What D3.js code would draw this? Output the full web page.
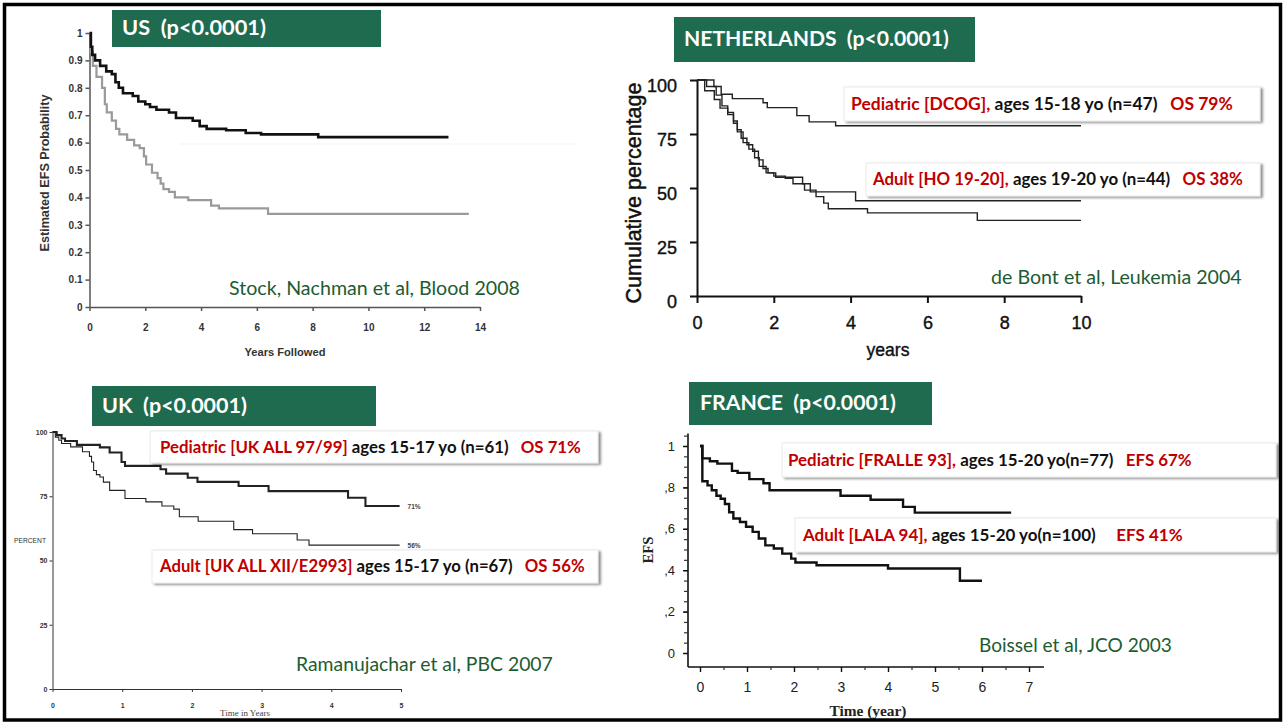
<!DOCTYPE html>
<html>
<head>
<meta charset="utf-8">
<script src="https://cdn.jsdelivr.net/npm/d3@7"></script>
<style>
  body { margin: 0; background: #fff; }
  svg { display: block; }
  text { white-space: pre; }
</style>
</head>
<body>
<div id="chart"></div>
<script>
////////////////// data ////////////////////////////////////

// US (Stock, Nachman) - years, EFS probability
const usXTicks = [0, 2, 4, 6, 8, 10, 12, 14];
const usYTicks = [0, 0.1, 0.2, 0.3, 0.4, 0.5, 0.6, 0.7, 0.8, 0.9, 1];
const usYLabels = ["0", "0.1", "0.2", "0.3", "0.4", "0.5", "0.6", "0.7", "0.8", "0.9", "1"];
const usPediatric = [[0,1],[0.05,0.95],[0.1,0.92],[0.2,0.9],[0.38,0.88],[0.6,0.86],[0.8,0.85],[0.93,0.82],
  [1.05,0.8],[1.2,0.78],[1.55,0.77],[1.75,0.75],[2.0,0.74],[2.17,0.73],[2.4,0.72],[2.85,0.71],[3.1,0.69],
  [3.7,0.68],[3.95,0.66],[4.2,0.65],[4.9,0.645],[5.6,0.635],[6.15,0.63],[8.2,0.62],[12.87,0.62]];
const usAdult = [[0,1],[0.05,0.93],[0.12,0.88],[0.25,0.84],[0.45,0.8],[0.55,0.74],[0.62,0.71],[0.8,0.68],
  [0.95,0.65],[1.07,0.63],[1.35,0.61],[1.6,0.59],[1.8,0.58],[1.95,0.55],[2.03,0.52],[2.24,0.49],[2.44,0.47],
  [2.55,0.45],[2.65,0.43],[2.85,0.42],[3.06,0.4],[3.54,0.39],[4.36,0.37],[4.64,0.36],[6.4,0.34],[13.6,0.34]];

// NETHERLANDS (de Bont) - years, cumulative percentage
const nlXTicks = [0, 2, 4, 6, 8, 10];
const nlYTicks = [0, 25, 50, 75, 100];
const nlPediatric = [[0,100],[0.44,97],[0.63,93.4],[0.92,91.4],[1.72,89.5],[1.83,87.2],[2.6,83.5],
  [2.92,80.6],[3.61,78.8],[10,78.8]];
const nlAdult = [[0,100],[0.25,97],[0.5,93],[0.65,88],[0.8,85],[0.95,81],[1.05,77],[1.15,73],[1.3,70],
  [1.45,67],[1.6,63],[1.72,59],[1.85,57],[2.05,55],[2.75,52],[2.95,48.2],[4.13,44.1],[10,44.1]];
const nlOther = [[0,100],[0.2,95],[0.45,91],[0.6,87],[0.8,84],[0.95,80],[1.05,76],[1.2,71],[1.35,68],
  [1.5,64],[1.62,60],[1.8,57],[2.0,55.5],[2.3,54.5],[2.5,52],[2.8,49],[3.1,46],[3.3,43],[3.42,40.4],
  [4.44,38.5],[7.3,35],[10,35]];
const nlLegend = [["Pediatric [DCOG],", " ages 15-18 yo (n=47)", "   OS 79%"],
                  ["Adult [HO 19-20],", " ages 19-20 yo (n=44)", "   OS 38%"]];

// UK (Ramanujachar) - years, percent
const ukXTicks = [0, 1, 2, 3, 4, 5];
const ukYTicks = [0, 25, 50, 75, 100];
const ukPediatric = [[0,100],[0.06,98.8],[0.13,97.5],[0.18,96.5],[0.35,95],[0.68,94],[0.82,92],[0.99,88.3],
  [1.04,86.8],[1.55,85.5],[1.63,83.8],[1.94,82.2],[2.08,80.6],[2.67,79],[3.1,77],[4.24,74.4],[4.49,71.2],[4.98,71.2]];
const ukAdult = [[0,100],[0.04,98],[0.09,96.8],[0.13,95.5],[0.26,94.2],[0.43,92.3],[0.53,90.5],[0.56,88.3],
  [0.59,85],[0.63,83.4],[0.68,82.5],[0.73,80.5],[0.82,77.3],[1.04,74.1],[1.34,72.8],[1.57,71.2],[1.74,70],
  [1.82,67],[2.09,65.3],[2.6,62],[2.87,60.4],[3.51,58],[3.68,56],[4.98,56]];
const ukEndLabels = ["71%", "56%"];
const ukLegend = [["Pediatric [UK ALL 97/99]", " ages 15-17 yo (n=61)", "   OS 71%"],
                  ["Adult [UK ALL XII/E2993]", " ages 15-17 yo (n=67)", "   OS 56%"]];

// FRANCE (Boissel) - years, EFS
const frXTicks = [0, 1, 2, 3, 4, 5, 6, 7];
const frYTicks = [0, 0.2, 0.4, 0.6, 0.8, 1];
const frYLabels = ["0", ",2", ",4", ",6", ",8", "1"];
const frPediatric = [[0,1],[0.05,0.94],[0.21,0.926],[0.37,0.915],[0.68,0.88],[0.8,0.87],[1.05,0.84],
  [1.35,0.82],[1.48,0.786],[2.99,0.76],[3.63,0.74],[4.32,0.706],[4.57,0.678],[6.62,0.678]];
const frAdult = [[0,1],[0.05,0.83],[0.16,0.81],[0.25,0.786],[0.35,0.76],[0.44,0.745],[0.53,0.72],[0.62,0.68],
  [0.71,0.65],[0.85,0.633],[0.98,0.61],[1.12,0.585],[1.25,0.553],[1.39,0.52],[1.57,0.505],[1.75,0.48],
  [1.94,0.456],[2.03,0.437],[2.48,0.424],[4.0,0.408],[5.53,0.349],[6.0,0.349]];
const frLegend = [["Pediatric [FRALLE 93],", " ages 15-20 yo(n=77)", "   EFS 67%"],
                  ["Adult [LALA 94],", " ages 15-20 yo(n=100)", "     EFS 41%"]];

const headers = ["US  (p<0.0001)", "NETHERLANDS  (p<0.0001)", "UK  (p<0.0001)", "FRANCE  (p<0.0001)"];
const sources = ["Stock, Nachman et al, Blood 2008", "de Bont et al, Leukemia 2004",
                 "Ramanujachar et al, PBC 2007", "Boissel et al, JCO 2003"];

////////////////// setup ////////////////////////////////////
const GREEN = "#1f6b4f", SRC = "#1d5c32", RED = "#c00000";
const CAL = "Lato, 'Open Sans', sans-serif";
const ARIAL = "'Liberation Sans', Arial, sans-serif";
const SERIF = "'Liberation Serif', 'Times New Roman', serif";
const intFmt = d3.format("d");

const svg = d3.select("#chart").append("svg").attr("width", 1287).attr("height", 722);
svg.append("rect").attr("width", 1287).attr("height", 722).attr("fill", "#fff");
svg.append("defs").append("filter").attr("id", "shadow")
   .attr("x", -0.05).attr("y", -0.3).attr("width", 1.1).attr("height", 1.7)
   .append("feDropShadow").attr("dx", 2.5).attr("dy", 1.5).attr("stdDeviation", 1.3)
   .attr("flood-color", "#000").attr("flood-opacity", 0.45);

////////////////// helpers ////////////////////////////////////

// shrink/grow a text's font-size so it spans the wanted width
function fit(t, w) {
  const len = t.node().getComputedTextLength();
  const fs = parseFloat(t.style("font-size"));
  t.style("font-size", (fs * w / len) + "px");
  return t;
}

function label(x, y, txt, font, size, weight, color, anchor) {
  return svg.append("text").attr("x", x).attr("y", y).attr("dy", "0.35em")
            .attr("text-anchor", anchor || "start")
            .style("font-family", font).style("font-size", size + "px").style("font-weight", weight)
            .attr("fill", color).text(txt);
}

// green title box
function header(x, y, w, h, txt, tx, tw) {
  svg.append("rect").attr("x", x).attr("y", y).attr("width", w).attr("height", h).attr("fill", GREEN);
  fit(label(tx, y + h / 2 - 1, txt, CAL, 21, "bold", "#fff"), tw);
}

// white legend box with shadow; first and last part red
function legendBox(x, y, w, h, parts, tx, tw) {
  svg.append("rect").attr("x", x).attr("y", y).attr("width", w).attr("height", h)
     .attr("fill", "#fff").attr("stroke", "#e4e4e4").attr("stroke-width", 0.8)
     .attr("filter", "url(#shadow)");
  const t = svg.append("text").attr("x", tx).attr("y", y + h / 2).attr("dy", "0.35em")
               .style("font-family", CAL).style("font-size", "17px").style("font-weight", "bold");
  parts.forEach(function(p, i) {
    t.append("tspan").attr("fill", i === 1 ? "#111" : RED).text(p);
  });
  fit(t, tw);
}

function curve(x, y, data, color, width) {
  svg.append("path").datum(data)
     .attr("fill", "none").attr("stroke", color).attr("stroke-width", width)
     .attr("d", d3.line().x(d => x(d[0])).y(d => y(d[1])).curve(d3.curveStepAfter));
}

function styleAxis(g, color, width, font, size, weight, fill) {
  g.attr("font-family", null).attr("font-size", null);
  g.select(".domain").attr("stroke", color).attr("stroke-width", width);
  g.selectAll(".tick line").attr("stroke", color).attr("stroke-width", width);
  g.selectAll(".tick text").attr("fill", fill).style("font-family", font)
   .style("font-size", size + "px").style("font-weight", weight);
}

////////////////// US ////////////////////////////////////
const usX = d3.scaleLinear().domain([0, 14]).range([89.5, 480]);
const usY = d3.scaleLinear().domain([0, 1]).range([307, 33]);

svg.append("line").attr("x1", 180).attr("x2", 574).attr("y1", 144).attr("y2", 144)
   .attr("stroke", "#f3f3f3").attr("stroke-width", 1);

const usXAxis = svg.append("g").attr("transform", `translate(0,${usY(0)})`)
   .call(d3.axisBottom(usX).tickValues(usXTicks).tickSize(4).tickSizeOuter(0).tickFormat(intFmt));
styleAxis(usXAxis, "#555", 1.5, ARIAL, 10, "bold", "#333");
usXAxis.selectAll(".tick text").attr("y", 20).attr("dy", "0.35em");

const usYAxis = svg.append("g").attr("transform", `translate(${usX(0)},0)`)
   .call(d3.axisLeft(usY).tickValues(usYTicks).tickSize(4).tickSizeOuter(0).tickPadding(3)
           .tickFormat((d, i) => usYLabels[i]));
styleAxis(usYAxis, "#555", 1.5, ARIAL, 10, "bold", "#333");

curve(usX, usY, usAdult, "#9a9a9a", 2.2);
curve(usX, usY, usPediatric, "#111", 2.6);

fit(label(285, 352, "Years Followed", ARIAL, 10, "bold", "#333", "middle"), 81);
fit(label(0, 0, "Estimated EFS Probability", ARIAL, 10, "bold", "#333", "middle")
      .attr("transform", "translate(45,173) rotate(-90)"), 157);

////////////////// NETHERLANDS ////////////////////////////////////
const nlX = d3.scaleLinear().domain([0, 10]).range([697, 1081]);
const nlY = d3.scaleLinear().domain([0, 100]).range([296, 80]);

const nlXAxis = svg.append("g").attr("transform", `translate(0,${nlY(0)})`)
   .call(d3.axisBottom(nlX).tickValues(nlXTicks).tickSize(7).tickSizeOuter(0).tickFormat(intFmt));
styleAxis(nlXAxis, "#111", 2, ARIAL, 18, "normal", "#111");
nlXAxis.selectAll(".tick text").attr("y", 27).attr("dy", "0.35em")
       .attr("stroke", "#111").attr("stroke-width", 0.4);

const nlYAxis = svg.append("g").attr("transform", `translate(${nlX(0)},0)`)
   .call(d3.axisLeft(nlY).tickValues(nlYTicks).tickSize(7).tickSizeOuter(0).tickPadding(13).tickFormat(intFmt));
styleAxis(nlYAxis, "#111", 2, ARIAL, 18, "normal", "#111");
nlYAxis.selectAll(".tick text").attr("y", 6).attr("stroke", "#111").attr("stroke-width", 0.4);

curve(nlX, nlY, nlOther, "#222", 1.4);
curve(nlX, nlY, nlAdult, "#222", 1.4);
curve(nlX, nlY, nlPediatric, "#222", 1.4);

fit(label(888, 350, "years", ARIAL, 18, "normal", "#111", "middle"), 43)
   .attr("stroke", "#111").attr("stroke-width", 0.4);
fit(label(0, 0, "Cumulative percentage", ARIAL, 20, "normal", "#111", "middle")
      .attr("transform", "translate(633,193) rotate(-90)"), 221)
   .attr("stroke", "#111").attr("stroke-width", 0.5);

////////////////// UK ////////////////////////////////////
const ukX = d3.scaleLinear().domain([0, 5]).range([52.5, 401]);
const ukY = d3.scaleLinear().domain([0, 100]).range([689, 432]);

const ukXAxis = svg.append("g").attr("transform", `translate(0,${ukY(0)})`)
   .call(d3.axisBottom(ukX).tickValues(ukXTicks).tickSize(3).tickSizeOuter(0).tickFormat(intFmt));
styleAxis(ukXAxis, "#333", 1, ARIAL, 7, "bold", "#333");
ukXAxis.selectAll(".tick text").attr("y", 17).attr("dy", "0.35em");

const ukYAxis = svg.append("g").attr("transform", `translate(${ukX(0)},0)`)
   .call(d3.axisLeft(ukY).tickValues(ukYTicks).tickSize(3).tickSizeOuter(0).tickPadding(2).tickFormat(intFmt));
styleAxis(ukYAxis, "#333", 1, ARIAL, 7, "bold", "#333");

curve(ukX, ukY, ukAdult, "#222", 1.1);
curve(ukX, ukY, ukPediatric, "#222", 2.1);

[ukPediatric, ukAdult].forEach(function(s, i) {
  const last = s[s.length - 1];
  label(ukX(last[0]) + 8, ukY(last[1]) + 1, ukEndLabels[i], ARIAL, 6.5, "bold", "#444");
});

fit(label(30, 541, "PERCENT", ARIAL, 7, "normal", "#333", "middle"), 32);
label(245, 713, "Time in Years", SERIF, 9, "normal", "#444", "middle");

////////////////// FRANCE ////////////////////////////////////
const frX = d3.scaleLinear().domain([0, 7]).range([700, 1029]);
const frY = d3.scaleLinear().domain([0, 1]).range([653, 446]);

// axis lines extend past the data range
svg.append("line").attr("x1", 688).attr("x2", 688).attr("y1", frY(1.06)).attr("y2", 667)
   .attr("stroke", "#111").attr("stroke-width", 1.6);
svg.append("line").attr("x1", 688).attr("x2", 1044).attr("y1", 667).attr("y2", 667)
   .attr("stroke", "#111").attr("stroke-width", 1.6);

const frYMinor = svg.append("g").attr("transform", "translate(688,0)")
   .call(d3.axisLeft(frY).tickValues(d3.range(0, 1.051, 0.05)).tickSize(4).tickFormat(""));
frYMinor.select(".domain").remove();
frYMinor.selectAll(".tick line").attr("stroke", "#333").attr("stroke-width", 1.2);

const frYAxis = svg.append("g").attr("transform", "translate(688,0)")
   .call(d3.axisLeft(frY).tickValues(frYTicks).tickSize(5).tickPadding(8)
           .tickFormat((d, i) => frYLabels[i]));
frYAxis.select(".domain").remove();
styleAxis(frYAxis, "#111", 1.4, ARIAL, 13, "normal", "#222");

const frXMinor = svg.append("g").attr("transform", "translate(0,667)")
   .call(d3.axisBottom(frX).tickValues(d3.range(0.5, 7, 1)).tickSize(3).tickFormat(""));
frXMinor.select(".domain").remove();
frXMinor.selectAll(".tick line").attr("stroke", "#333").attr("stroke-width", 1.2);

const frXAxis = svg.append("g").attr("transform", "translate(0,667)")
   .call(d3.axisBottom(frX).tickValues(frXTicks).tickSize(5).tickFormat(intFmt));
frXAxis.select(".domain").remove();
styleAxis(frXAxis, "#111", 1.4, ARIAL, 14, "normal", "#222");
frXAxis.selectAll(".tick text").attr("y", 20).attr("dy", "0.35em");

curve(frX, frY, frAdult, "#111", 2.4);
curve(frX, frY, frPediatric, "#111", 2.4);

fit(label(868, 711, "Time (year)", SERIF, 13, "bold", "#222", "middle"), 77);
fit(label(0, 0, "EFS", SERIF, 13, "bold", "#222", "middle")
      .attr("transform", "translate(648,550) rotate(-90)"), 27);

////////////////// boxes & texts ////////////////////////////////////
header(112, 10, 269, 37, headers[0], 122, 144);
header(674, 17, 301, 45, headers[1], 684, 265);
header(92, 386, 284, 40, headers[2], 102, 145);
header(689, 382, 243, 43, headers[3], 700, 196);

legendBox(844, 87, 416, 34, nlLegend[0], 851, 382);
legendBox(866, 163, 394, 33, nlLegend[1], 873, 370);
legendBox(150, 431, 448, 32, ukLegend[0], 160, 421);
legendBox(152, 550, 446, 33, ukLegend[1], 160, 425);
legendBox(782, 443, 494, 34, frLegend[0], 788, 404);
legendBox(795, 518, 481, 34, frLegend[1], 803, 380);

fit(label(229, 288, sources[0], CAL, 19, "normal", SRC), 291);
fit(label(991, 277, sources[1], CAL, 19, "normal", SRC), 251);
fit(label(296, 664, sources[2], CAL, 19, "normal", SRC), 257);
fit(label(979, 645, sources[3], CAL, 19, "normal", SRC), 193);

// outer frame
svg.append("rect").attr("x", 4.5).attr("y", 4.5).attr("width", 1276).attr("height", 715.5)
   .attr("fill", "none").attr("stroke", "#000").attr("stroke-width", 3.5);
</script>
</body>
</html>
